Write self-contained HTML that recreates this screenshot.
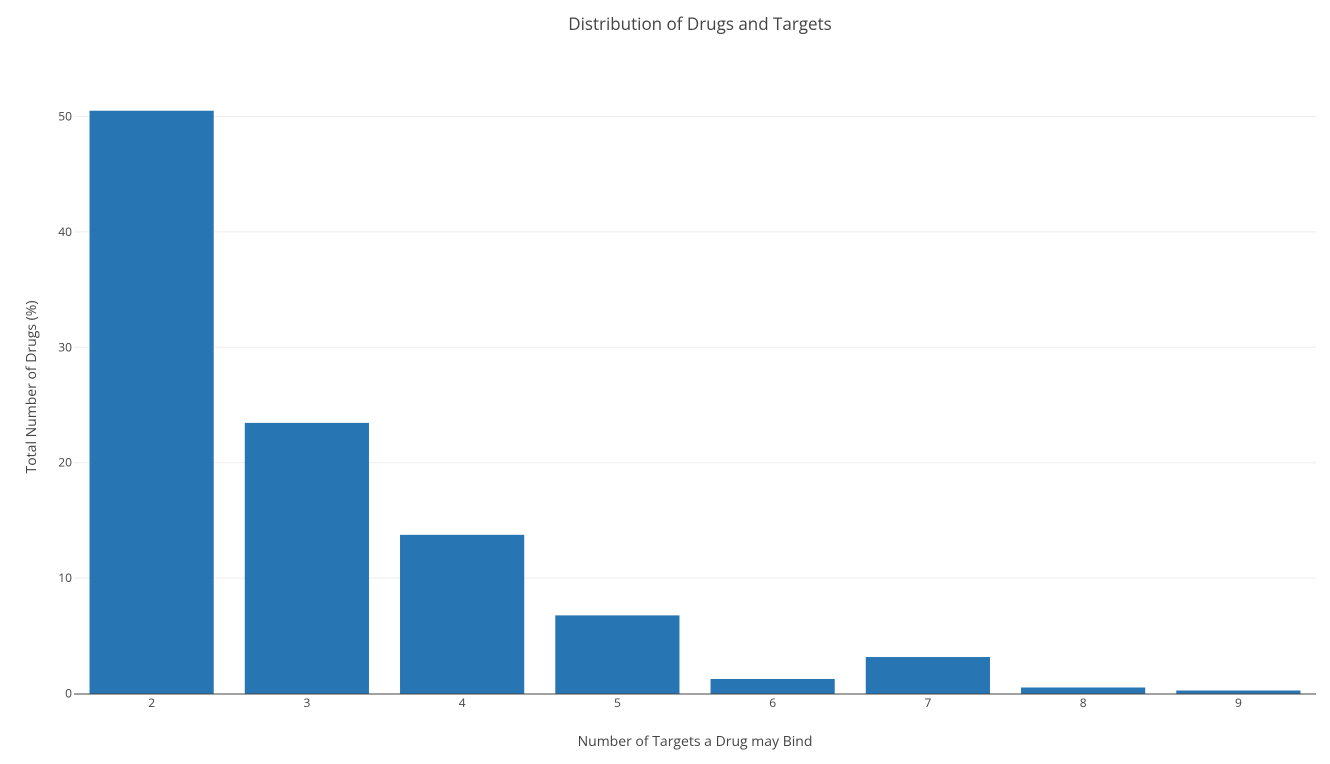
<!DOCTYPE html>
<html><head><meta charset="utf-8"><style>
body{margin:0;background:#fff;}
svg{display:block;font-family:"Open Sans","Liberation Sans",sans-serif;}
</style></head><body>
<svg id="chart" width="1330" height="764">
<text x="700" y="30" text-anchor="middle" font-size="17" fill="#444">Distribution of Drugs and Targets</text>
<g id="grid"></g><g id="bars"></g><g id="axes"></g>
<text x="695" y="746" text-anchor="middle" font-size="14" fill="#444">Number of Targets a Drug may Bind</text>
<text transform="translate(36,387) rotate(-90)" text-anchor="middle" font-size="14" fill="#444">Total Number of Drugs (%)</text>
</svg>
<script>
const categories = ["2","3","4","5","6","7","8","9"];
const values = [50.5, 23.45, 13.75, 6.77, 1.26, 3.16, 0.52, 0.26];
const yTicks = [0,10,20,30,40,50];
const NS="http://www.w3.org/2000/svg";
const x0=74,x1=1316,yZero=693.5,y50=116.5;
const step=(x1-x0)/categories.length;
const xC=i=>x0+step*(i+0.5);
const yS=v=>yZero-(yZero-y50)*v/50;
function mk(t,a,p){const e=document.createElementNS(NS,t);for(const k in a)e.setAttribute(k,a[k]);p.appendChild(e);return e;}
const grid=document.getElementById('grid'),bars=document.getElementById('bars'),axes=document.getElementById('axes');
yTicks.forEach(v=>{
  if(v>0){const l=mk('line',{x1:x0,x2:x1,y1:yS(v),y2:yS(v),stroke:'#eee','stroke-width':1},grid);
  
  }
  const t=mk('text',{x:x0-2,y:yS(v)+4,'text-anchor':'end','font-size':12,fill:'#444'},axes);
  t.textContent=v;
  
  
});
categories.forEach((c,i)=>{
  const w=step*0.8;
  const r=mk('rect',{x:xC(i)-w/2,y:yS(values[i]),width:w,height:yZero-yS(values[i]),fill:'#2776b3'},bars);
  
  
  const t=mk('text',{x:xC(i),y:707,'text-anchor':'middle','font-size':12,fill:'#444'},axes);
  t.textContent=c;
  
  
});
const ax=mk('line',{x1:x0,x2:x1,y1:yZero+0.5,y2:yZero+0.5,stroke:'#444','stroke-width':1},axes);


</script>
</body></html>
